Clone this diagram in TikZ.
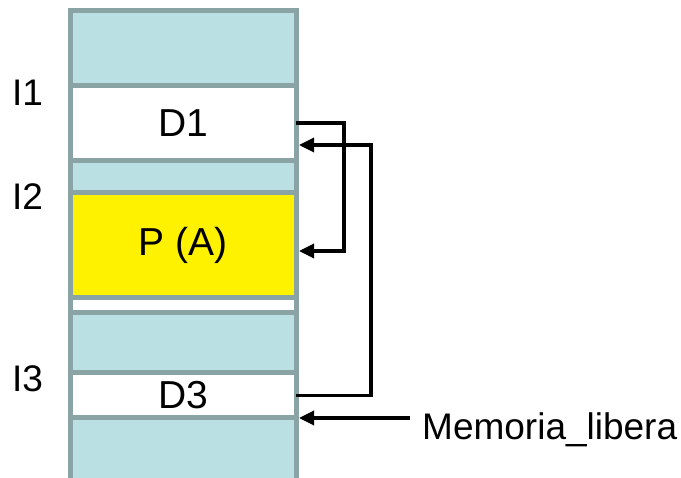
\documentclass[tikz,border=0pt]{standalone}
\usepackage{fontspec}
\setmainfont{Liberation Sans}
\usetikzlibrary{arrows.meta}
\definecolor{cellblue}{RGB}{187,224,227}
\definecolor{cellrule}{RGB}{138,164,166}
\begin{document}
\begin{tikzpicture}[x=1pt, y=-1pt,
	cell/.style={draw=cellrule, line width=5pt, minimum width=226pt, inner sep=0pt,
		outer sep=0pt, font=\fontsize{39}{45}\selectfont},
	lbl/.style={anchor=base west, inner sep=0pt, font=\fontsize{37}{44}\selectfont},
	link/.style={line width=3.3pt, -{Triangle[length=15pt,width=14pt]}}]
	\clip (0,0) rectangle (681,478);
	
	% memory column
	\node[cell, fill=cellblue, minimum height=75pt] (top) at (183,48) {};
	\node[cell, fill=white, minimum height=75pt] (d1) at (183,123) {D1};
	\node[cell, fill=cellblue, minimum height=32pt] (gapa) at (183,176.5) {};
	\node[cell, fill=yellow, minimum height=105pt] (pa) at (183,245) {P (A)};
	\node[cell, fill=white, minimum height=15pt] (gapb) at (183,305) {};
	\node[cell, fill=cellblue, minimum height=60pt] (mid) at (183,342.5) {};
	\node[cell, fill=white, minimum height=45.5pt] (d3) at (183,395.25) {D3};
	\node[cell, fill=cellblue, minimum height=82pt] (bot) at (183,459) {};
	
	% labels
	\node[lbl] (i1) at (12,106) {I1};
	\node[lbl] (i2) at (12,210) {I2};
	\node[lbl] (i3) at (12,392) {I3};
	\node[lbl] (mem) at (422,440) {Memoria\_libera};
	
	% pointers
	\draw[link] (d1.east) -- (344,123) |- ([xshift=3pt,yshift=-6pt]pa.east);
	\draw[link] (d3.east) -- (371,395.25) |- ([xshift=3pt,yshift=-22pt]d1.east);
	\coordinate (free) at (410,418);
	\draw[link] (free) -- ([xshift=3pt]d3.south east);
\end{tikzpicture}
\end{document}
